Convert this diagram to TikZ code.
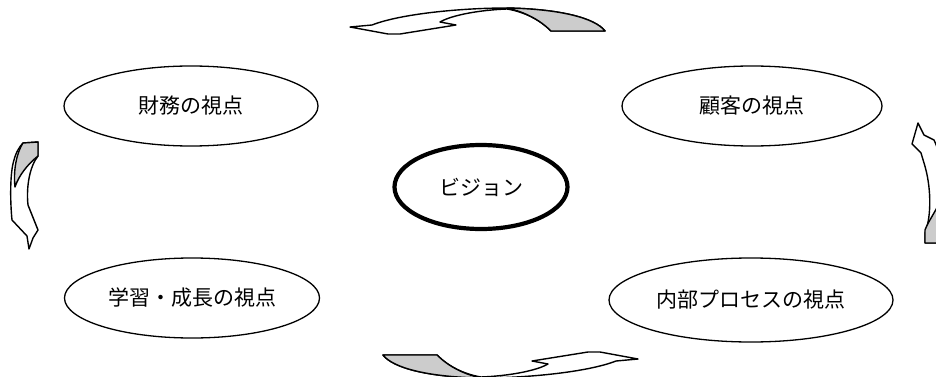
\documentclass[tikz,border=0pt]{standalone}
\usepackage{fontspec}
\newfontfamily\jp{Noto Sans CJK JP}
\usetikzlibrary{shapes.geometric}
\newcommand\myArrowH{%
  \filldraw[arrowface] (350,27) -- (372,25) .. controls (400,14) and (460,8) .. (507,8)
    .. controls (560,9) and (595,18) .. (605,31) -- (551,31)
    .. controls (540,20) and (525,12) .. (507,9)
    .. controls (480,10) and (452,15) .. (440,22) -- (456,25) -- (400,34) -- (388,34) -- cycle;
  \filldraw[arrowback] (507,8) .. controls (560,9) and (595,18) .. (605,31) -- (551,31)
    .. controls (540,20) and (525,12) .. (507,8) -- cycle;
}
\begin{document}
\begin{tikzpicture}[x=1pt,y=-1pt,
  view/.style={draw,ellipse,line width=1.3pt,fill=white,inner sep=0pt,
    font=\jp\fontsize{21}{24}\selectfont},
  vision/.style={view,line width=4.2pt},
  arrowface/.style={draw=black,fill=white,line width=1.4pt,line join=round},
  arrowback/.style={draw=black,fill=gray!40,line width=1.4pt,line join=round}]
\useasboundingbox (0,0) rectangle (936,377);
\fill[white] (0,0) rectangle (936,377);
\node[view,minimum width=254pt,minimum height=80pt] (fin) at (191,106) {財務の視点};
\node[view,minimum width=260pt,minimum height=80pt] (cus) at (752,106) {顧客の視点};
\node[vision,minimum width=173pt,minimum height=84pt] (vis) at (481,187) {ビジョン};
\node[view,minimum width=255pt,minimum height=80pt] (lrn) at (192,298) {学習・成長の視点};
\node[view,minimum width=284pt,minimum height=84pt] (int) at (751,300) {内部プロセスの視点};
% top and bottom curved arrows
\myArrowH
\begin{scope}[shift={(988,386)},rotate=180]
\myArrowH
\end{scope}
% left curved arrow (pointing down)
\filldraw[arrowface] (23,143) -- (38,142) -- (38,156) .. controls (30,166) and (26,186) .. (28,205)
  -- (32,215) -- (38,230) -- (33,238) -- (29,249) -- (27,236) -- (12,220)
  .. controls (10,200) and (10,172) .. (14,160) .. controls (16,152) and (20,146) .. (23,143) -- cycle;
\filldraw[arrowback] (23,143) -- (38,142) -- (38,156) .. controls (28,164) and (19,175) .. (15,187)
  .. controls (13,170) and (17,152) .. (23,143) -- cycle;
% right curved arrow (pointing up)
\filldraw[arrowface] (918,123) -- (924,135) -- (934,140) .. controls (944,160) and (946,200) .. (941,228)
  -- (941,243) -- (925,243) -- (925,233) .. controls (932,215) and (931,185) .. (924,163)
  -- (921,153) -- (912,144) -- cycle;
\filldraw[arrowback] (941,200) .. controls (934,214) and (928,222) .. (925,230) -- (925,243)
  -- (941,243) -- cycle;
\end{tikzpicture}
\end{document}
